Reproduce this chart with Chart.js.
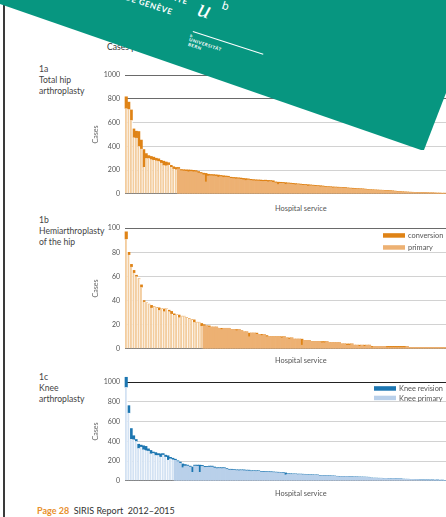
<!DOCTYPE html>
<html>
<head>
<meta charset="utf-8">
<script src="https://cdn.jsdelivr.net/npm/chart.js@4.4.1/dist/chart.umd.min.js"></script>
<style>
  body { margin:0; width:446px; height:517px; overflow:hidden; position:relative; background:#fff; font-family:Lato, "Open Sans", sans-serif; color:#444; }
  canvas { position:absolute; left:88px; }
  .lbl { position:absolute; left:39px; font-size:8.6px; line-height:11px; color:#444; }
  .hs { position:absolute; left:275px; font-size:7.4px; color:#555; }
  #vline { position:absolute; left:3px; top:0; width:1.5px; height:517px; background:#3a3a3a; }
  #banner { position:absolute; left:0; top:0; width:446px; height:160px; background:#079680;
    clip-path: polygon(0px 4px, 421px 150px, 424px 150px, 446px 93px, 446px 0px, 0px 0px); z-index:5; }
  .bt { position:absolute; color:#fff; white-space:nowrap; transform-origin:left top; transform:rotate(18deg); }
</style>
</head>
<body>
<div id="vline"></div>
<div style="position:absolute;left:107px;top:42px;font-size:8.6px;color:#333;">Cases per hospital service</div>

<div class="lbl" style="top:64px;">1a<br>Total hip<br>arthroplasty</div>
<div class="lbl" style="top:215px;">1b<br>Hemiarthroplasty<br>of the hip</div>
<div class="lbl" style="top:372px;">1c<br>Knee<br>arthroplasty</div>

<canvas id="c1" width="358" height="137" style="top:66px"></canvas>
<canvas id="c2" width="358" height="139" style="top:219px"></canvas>
<canvas id="c3" width="358" height="117" style="top:373px"></canvas>

<div class="hs" style="top:204px;">Hospital service</div>
<div class="hs" style="top:356px;">Hospital service</div>
<div class="hs" style="top:489px;">Hospital service</div>

<div style="position:absolute;left:37px;top:505px;font-size:9px;white-space:nowrap;">
  <span style="color:#e8902c;font-weight:bold;">Page 28</span>&nbsp; <span style="color:#333;">SIRIS Report&nbsp; 2012–2015</span>
</div>

<div id="banner">
  <div class="bt" style="left:140px;top:-19px;font-size:8px;font-weight:bold;letter-spacing:0.6px;">UNIVERSITÉ</div>
  <div class="bt" style="left:127px;top:-8px;font-size:8px;font-weight:bold;letter-spacing:0.6px;">DE GENÈVE</div>
  <div class="bt" style="left:203px;top:-6px;font-size:25px;font-style:italic;font-family:'Liberation Serif',serif;">u</div>
  <div class="bt" style="left:224px;top:-1px;font-size:11px;font-family:'DejaVu Sans',sans-serif;">b</div>
  <div class="bt" style="left:193px;top:31px;width:74px;height:1px;background:#fff;"></div>
  <div class="bt" style="left:191px;top:33px;font-size:4px;font-weight:bold;">b</div>
  <div class="bt" style="left:190px;top:37px;font-size:4.5px;font-weight:bold;letter-spacing:0.5px;">UNIVERSITÄT</div>
  <div class="bt" style="left:189px;top:42px;font-size:4.5px;font-weight:bold;letter-spacing:0.5px;">BERN</div>
</div>

<script>
// 1a total hip arthroplasty, per hospital service (sorted)
var hipPrimary = [720,712,621,475,472,400,379,225,300,300,290,285,280,275,262,240,238,245,225,212,205,210,195,192,190,185,188,185,185,175,170,160,100,150,152,150,148,140,145,138,140,138,130,128,125,126,122,118,112,117,112,110,108,108,105,104,
  105,101,103,96,92,78,88,88,79,85,82,79,76,78,75,72,73,65,68,67,63,65,59,60,55,56,54,50,52,50,51,49,47,45,44,41,41,40,38,39,36,
  32,32,29,30,28,28,28,26,24,24,22,21,18,17,14,14,13,12,11,11,10,10,8,9,8,7,7,6,5,5,4,5];
var hipConversion = [98,61,86,72,56,125,74,148,39,22,25,24,20,20,20,35,30,17,15,16,17,12,10,11,12,16,12,13,11,13,10,14,72,15,11,12,12,18,10,14,10,10,10,10,12,9,11,12,16,9,10,10,10,9,11,10,
  10,12,9,14,8,20,9,8,15,7,8,9,10,6,7,8,6,12,7,6,8,5,9,6,7,5,6,8,5,6,4,5,6,5,4,6,5,4,5,3,4,
  4,3,5,3,4,3,2,3,4,3,3,2,3,2,3,2,2,2,2,1,2,1,2,1,1,1,1,1,1,1,1,0];

// 1b hemiarthroplasty of the hip
var hemiPrimary = [91,78,68,63,60,58,51,39,38,37,34,35,34,32,33,31,33,31,29,28,28,26,27,27,26,25,24,22,22,22,19,19,19,18,18,18,18,17,16,17,17,17,16,16,15,16,15,14,14,10,
  13,13,12,12,11,12,10,10,10,10,10,10,9,10,9,8,9,8,8,8,3,7,7,7,6,6,6,6,5,5,6,5,5,5,5,5,4,4,3,3,4,3,3,2,3,2,3,3,1,2,
  2,2,2,2,1,1,1,1,1,1,1,1,2,1,1,1,1,1,1,1,1,1,1,1,1,1,1,1];
var hemiConversion = [6,2,2,2,1,0,2,1,0,0,2,0,0,2,0,2,0,1,2,1,0,2,0,0,0,0,0,2,0,0,2,1,0,1,0,0,0,0,1,0,0,0,0,0,1,0,0,0,0,3,
  0,0,1,0,1,0,1,0,0,0,0,0,1,0,0,1,0,0,0,0,5,0,0,0,0,0,0,0,1,1,0,0,0,0,0,0,0,0,1,1,0,0,0,1,0,1,0,0,1,0,
  0,0,0,0,1,1,1,1,1,1,1,1,0,0,0,0,0,0,0,0,0,0,0,0,0,0,0,0];

// 1c knee arthroplasty
var kneePrimary = [950,689,425,419,400,330,345,317,308,305,276,280,260,260,244,265,245,213,225,215,208,195,178,133,150,150,140,86,150,148,86,146,136,138,139,140,130,124,125,124,125,116,110,109,107,104,103,104,103,101,100,95,96,95,96,89,88,
  88,88,85,84,83,81,81,79,60,67,65,65,66,63,64,62,62,58,56,57,57,56,49,49,48,49,47,47,46,43,41,42,41,42,40,39,
  37,38,36,36,35,35,34,26,25,25,24,25,23,24,22,21,22,20,21,20,16,15,15,14,14,13,13,10,10,9,9,8,9,7,8,6,6,5];
var kneeRevision = [100,73,105,38,19,41,17,38,41,19,32,12,26,16,29,11,15,41,13,14,11,8,12,38,15,9,9,54,9,11,73,10,10,8,10,9,10,9,8,9,8,8,7,8,7,7,8,7,8,7,8,7,6,7,6,6,7,
  6,5,7,6,5,6,5,6,20,5,6,5,4,5,4,5,4,4,5,4,3,4,4,3,4,3,4,3,3,3,4,3,3,2,3,3,
  3,2,3,2,3,2,2,2,2,2,2,1,2,1,2,2,1,2,1,1,1,1,1,1,1,1,1,1,1,1,1,1,1,0,1,0,1,0,0];

Chart.defaults.font.family = 'Lato, "Open Sans", sans-serif';
Chart.defaults.color = '#555';

function labelsFor(arr) {
  var l = [];
  for (var i = 0; i < arr.length; i++) l.push(String(i + 1));
  return l;
}

// small legend drawn inside the plot area (top right)
var boxLegend = {
  id: 'boxLegend',
  afterDraw: function(chart, args, opts) {
    var ctx = chart.ctx;
    var ds = chart.data.datasets.slice().reverse();
    ctx.save();
    ctx.font = '7.4px Lato';
    ctx.textBaseline = 'middle';
    for (var i = 0; i < ds.length; i++) {
      var y = chart.chartArea.top + opts.top + i * opts.gap;
      ctx.fillStyle = ds[i].legendColor;
      ctx.fillRect(opts.x, y, 22, 4.5);
      ctx.fillStyle = '#555';
      ctx.fillText(ds[i].label, opts.x + 25, y + 2.5);
    }
    ctx.restore();
  }
};

function BarChart(id, primary, extra, names, colors, max, step, darkFrom, legendPos) {
  var paleN = colors.paleN;
  var config = {
    type: 'bar',
    data: {
      labels: labelsFor(primary),
      datasets: [{
        label: names[1],
        data: primary,
        legendColor: colors.light,
        backgroundColor: function(c) { return c.dataIndex < paleN ? colors.pale : colors.light; },
        borderColor: '#ffffff',
        borderWidth: function(c) { return c.dataIndex < paleN ? {right: 1} : 0; },
        borderSkipped: false,
        categoryPercentage: 1,
        barPercentage: 1,
        clip: false
      }, {
        label: names[0],
        data: extra,
        legendColor: colors.dark,
        backgroundColor: colors.dark,
        categoryPercentage: 1,
        barPercentage: 1,
        clip: false
      }]
    },
    options: {
      responsive: false,
      animation: false,
      events: [],
      layout: { padding: { top: 6, bottom: 6, left: 0, right: 0 } },
      plugins: {
        legend: { display: false },
        tooltip: { enabled: false },
        boxLegend: legendPos
      },
      scales: {
        x: {
          stacked: true,
          ticks: { display: false },
          grid: { display: false, drawTicks: false },
          border: { display: true, color: '#777', width: 1 }
        },
        y: {
          stacked: true,
          min: 0,
          max: max,
          afterFit: function(s) { s.width = 37; },
          ticks: { stepSize: step, padding: 5, font: { size: 7 }, color: '#555',
            callback: function(v) { return String(v); } },
          grid: {
            drawTicks: false,
            color: function(c) { return c.tick.value >= darkFrom ? colors.top : '#d2d2d2'; },
            lineWidth: 1
          },
          border: { display: false },
          title: { display: true, text: 'Cases', font: { size: 7 }, color: '#666', padding: { top: 4, bottom: 0 } }
        }
      }
    },
    plugins: [boxLegend]
  };
  var ctx = document.getElementById(id).getContext('2d');
  return new Chart(ctx, config);
}

var orange = { dark: '#df8316', light: '#edb173', pale: '#f3cd9f', top: '#6a6a6a', paleN: 21 };
var orange2 = { dark: '#df8316', light: '#edb173', pale: '#f3cd9f', top: '#6a6a6a', paleN: 31 };
var blue = { dark: '#1c76b1', light: '#b9d0ea', pale: '#d3e2f3', top: '#222222', paleN: 20 };

window.GenChart1 = BarChart('c1', hipPrimary, hipConversion, ['conversion', 'primary'], orange, 1000, 200, 800, { x: 295, top: 5, gap: 12 });
window.GenChart2 = BarChart('c2', hemiPrimary, hemiConversion, ['conversion', 'primary'], orange2, 100, 20, 100, { x: 295, top: 5, gap: 12 });
window.GenChart3 = BarChart('c3', kneePrimary, kneeRevision, ['Knee revision', 'Knee primary'], blue, 1000, 200, 1000, { x: 286, top: 4, gap: 9.5 });
</script>
</body>
</html>
